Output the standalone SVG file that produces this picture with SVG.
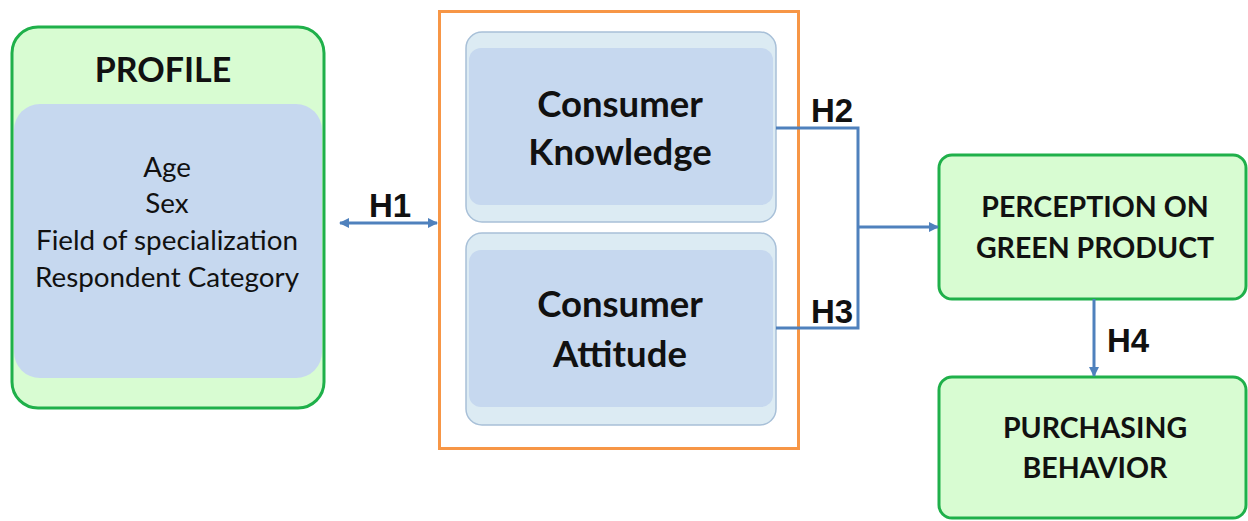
<svg xmlns="http://www.w3.org/2000/svg" width="1248" height="521" viewBox="0 0 1248 521">
<defs>
<style>
.g{fill:#d8fcd2;stroke:#1fb04a;stroke-width:3}
.b{fill:#c6d8ef}
.lb{fill:#dcebf3;stroke:#a8c0d8;stroke-width:1.5}
.t{font-family:Lato,"Open Sans",sans-serif;fill:#111;text-anchor:middle}
.bold{font-weight:bold}
.c{fill:none;stroke:#4f81bd;stroke-width:3}
.h{font-family:"Liberation Sans",Arial,sans-serif;font-weight:bold;font-size:33px;fill:#111}
</style>
<marker id="ah" markerWidth="10" markerHeight="10" refX="9" refY="5" orient="auto-start-reverse" markerUnits="userSpaceOnUse">
<path d="M0,0 L10,5 L0,10 Z" fill="#4f81bd"/>
</marker>
</defs>
<rect width="1248" height="521" fill="#fff"/>
<g id="profile">
<rect class="g" x="12" y="27" width="312" height="381" rx="26"/>
<rect class="b" x="14" y="104" width="308" height="274" rx="26"/>
<text class="t bold" x="163" y="82" font-size="34">PROFILE</text>
<text class="t" x="167" y="177" font-size="27.8">Age</text>
<text class="t" x="167" y="213" font-size="27.8">Sex</text>
<text class="t" x="167" y="250" font-size="27.8">Field of specialization</text>
<text class="t" x="167" y="287" font-size="27.8">Respondent Category</text>
</g>
<g id="consumer-group">
<rect x="439.5" y="11.5" width="359" height="437" fill="none" stroke="#f79646" stroke-width="3"/>
</g>
<g id="knowledge">
<rect class="lb" x="466" y="32" width="310" height="190" rx="16"/>
<rect class="b" x="469" y="48" width="304" height="157" rx="12"/>
<text class="t bold" x="620" y="117" font-size="36.5">Consumer</text>
<text class="t bold" x="620" y="165" font-size="36.5">Knowledge</text>
</g>
<g id="attitude">
<rect class="lb" x="466" y="233" width="310" height="192" rx="16"/>
<rect class="b" x="469" y="250" width="304" height="157" rx="12"/>
<text class="t bold" x="620" y="317" font-size="36.5">Consumer</text>
<text class="t bold" x="620" y="367" font-size="36.5">Attitude</text>
</g>
<g id="perception">
<rect class="g" x="939" y="155" width="307" height="144" rx="13"/>
<text class="t bold" x="1095" y="217" font-size="28.5">PERCEPTION ON</text>
<text class="t bold" x="1095" y="258" font-size="28.5">GREEN PRODUCT</text>
</g>
<g id="purchasing">
<rect class="g" x="939" y="377" width="307" height="141" rx="13"/>
<text class="t bold" x="1095" y="438" font-size="28.5">PURCHASING</text>
<text class="t bold" x="1095" y="478" font-size="28.5">BEHAVIOR</text>
</g>
<g id="connectors">
<line class="c" x1="340" y1="223" x2="437" y2="223" marker-start="url(#ah)" marker-end="url(#ah)"/>
<polyline class="c" points="776,128 858,128 858,328 776,328"/>
<line class="c" x1="858" y1="227" x2="938" y2="227" marker-end="url(#ah)"/>
<line class="c" x1="1094" y1="299" x2="1094" y2="376" marker-end="url(#ah)"/>
<text class="h" x="369" y="217">H1</text>
<text class="h" x="811" y="122">H2</text>
<text class="h" x="811" y="323">H3</text>
<text class="h" x="1107" y="352">H4</text>
</g>
</svg>
